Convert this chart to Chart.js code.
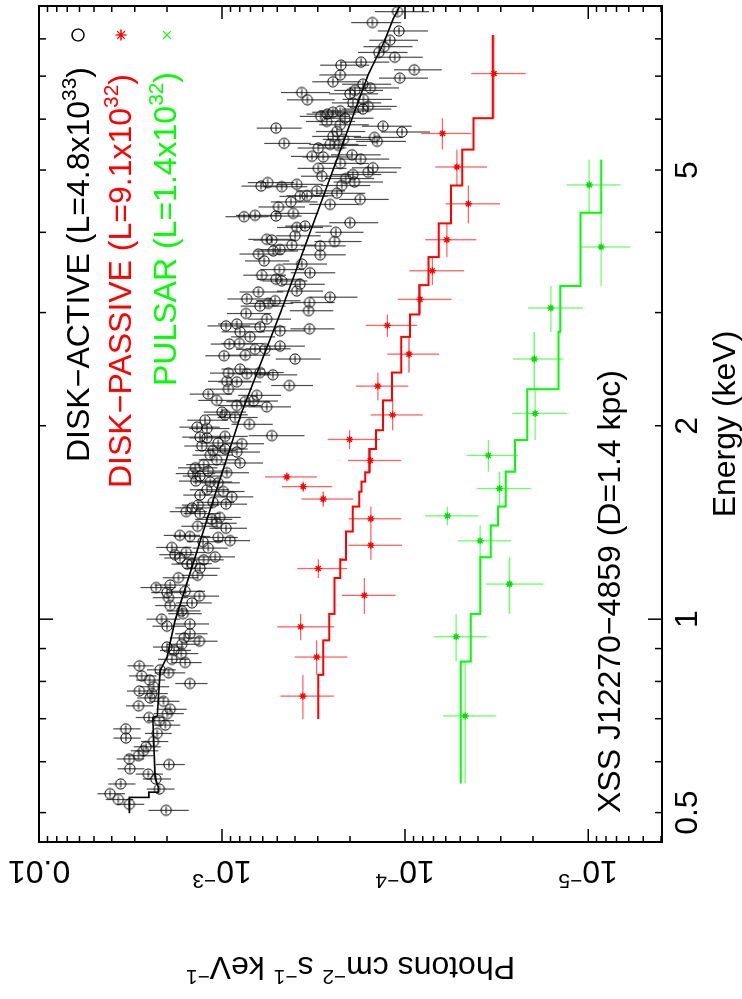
<!DOCTYPE html>
<html>
<head>
<meta charset="utf-8">
<script src="https://cdn.jsdelivr.net/npm/chart.js@4.4.1/dist/chart.umd.min.js"></script>
<style>
  html, body { margin: 0; padding: 0; width: 742px; height: 999px; overflow: hidden; background: #fff; }
  /* the plot is drawn landscape and turned a quarter turn, like the printed figure */
  #turn { position: absolute; left: 0; top: 0; width: 999px; height: 742px;
          transform-origin: 0 0; transform: translateY(999px) rotate(-90deg); }
</style>
</head>
<body>
<div id="turn"><canvas id="spec" width="999" height="742"></canvas></div>
<script>
/* spectrum plot - XSS J12270-4859 */

// axis ticks and labels
const energyTicks = [0.5, 1, 2, 5];
const energyTickLabels = ['0.5', '1', '2', '5'];
const fluxTicks = [0.01, 1e-3, 1e-4, 1e-5];
const fluxTickLabels = [['0.01', ''], ['10', '\u22123'], ['10', '\u22124'], ['10', '\u22125']];

// legend
const seriesNames = ['DISK\u2212ACTIVE', 'DISK\u2212PASSIVE', 'PULSAR'];
const seriesLum = [['4.8', '33'], ['9.1', '32'], ['1.4', '32']];

// DISK-ACTIVE: [energy keV, flux, flux error]
const diskActive = [
  [0.504,2.02e-3,5.0e-4],[0.515,3.21e-3,5.5e-4],[0.524,3.69e-3,6.3e-4],[0.535,4.09e-3,7.0e-4],[0.544,2.20e-3,3.8e-4],
  [0.554,3.58e-3,6.1e-4],[0.564,2.30e-3,4.0e-4],[0.574,2.53e-3,4.3e-4],[0.585,3.19e-3,5.4e-4],[0.594,1.95e-3,3.5e-4],
  [0.606,3.21e-3,5.5e-4],[0.613,2.86e-3,4.9e-4],[0.624,2.69e-3,4.6e-4],[0.633,2.60e-3,4.4e-4],[0.645,2.37e-3,4.0e-4],
  [0.653,3.35e-3,5.7e-4],[0.664,2.26e-3,3.8e-4],[0.675,3.36e-3,5.7e-4],[0.684,2.04e-3,3.5e-4],[0.695,2.20e-3,3.7e-4],
  [0.703,2.51e-3,4.5e-4],[0.713,1.99e-3,3.7e-4],[0.724,1.92e-3,3.6e-4],[0.733,2.86e-3,4.9e-4],[0.745,2.09e-3,3.8e-4],
  [0.754,2.47e-3,4.4e-4],[0.766,2.42e-3,4.4e-4],[0.773,2.83e-3,4.8e-4],[0.785,2.37e-3,4.3e-4],[0.794,1.50e-3,3.0e-4],
  [0.804,2.49e-3,4.5e-4],[0.816,2.75e-3,4.7e-4],[0.825,1.96e-3,3.7e-4],[0.834,2.18e-3,3.9e-4],[0.846,2.83e-3,4.6e-4],
  [0.856,1.59e-3,3.0e-4],[0.866,1.88e-3,3.6e-4],[0.884,1.67e-3,3.2e-4],[0.894,1.83e-3,3.5e-4],[0.905,2.00e-3,3.8e-4],
  [0.914,1.66e-3,3.3e-4],[0.924,1.33e-3,2.7e-4],[0.935,1.61e-3,3.2e-4],[0.949,1.50e-3,3.0e-4],[0.975,2.00e-3,4.0e-4],
  [0.983,1.50e-3,3.2e-4],
  [1.00,2.14e-3,4.5e-4],[1.02,1.63e-3,3.4e-4],[1.03,1.66e-3,3.5e-4],[1.05,1.92e-3,4.0e-4],[1.06,1.46e-3,3.2e-4],
  [1.08,1.96e-3,4.3e-4],[1.086,1.33e-3,2.9e-4],[1.10,2.00e-3,4.4e-4],[1.105,1.59e-3,3.5e-4],[1.12,2.29e-3,5.0e-4],
  [1.13,1.92e-3,4.2e-4],[1.16,1.73e-3,3.8e-4],[1.17,1.36e-3,3.0e-4],[1.20,1.32e-3,2.9e-4],[1.218,1.55e-3,3.4e-4],
  [1.22,1.46e-3,3.2e-4],[1.237,1.26e-3,2.8e-4],[1.245,1.70e-3,3.7e-4],[1.25,1.09e-3,2.4e-4],[1.26,1.81e-3,3.9e-4],
  [1.27,1.57e-3,3.4e-4],[1.29,1.19e-3,2.6e-4],[1.293,1.88e-3,4.1e-4],[1.32,1.27e-3,2.8e-4],[1.325,9.04e-4,2.0e-4],
  [1.34,1.05e-3,2.3e-4],[1.345,1.50e-3,3.4e-4],[1.35,1.70e-3,3.8e-4],[1.385,9.51e-4,2.2e-4],[1.395,1.36e-3,3.1e-4],
  [1.41,1.07e-3,2.4e-4],[1.43,1.14e-3,2.6e-4],[1.44,1.03e-3,2.4e-4],[1.46,1.32e-3,3.0e-4],[1.47,1.57e-3,3.6e-4],
  [1.49,1.46e-3,3.4e-4],[1.505,1.35e-3,3.1e-4],[1.51,9.51e-4,2.2e-4],[1.52,1.12e-3,2.6e-4],[1.55,8.85e-4,2.1e-4],
  [1.56,1.32e-3,3.1e-4],[1.58,9.84e-4,2.3e-4],[1.59,1.21e-3,2.9e-4],[1.63,1.05e-3,2.5e-4],[1.635,1.16e-3,2.8e-4],
  [1.64,1.39e-3,3.3e-4],[1.67,1.32e-3,3.2e-4],[1.685,1.44e-3,3.5e-4],[1.69,9.43e-4,2.3e-4],[1.70,1.19e-3,2.9e-4],
  [1.72,1.40e-3,3.4e-4],[1.74,1.26e-3,3.1e-4],[1.75,7.97e-4,2.0e-4],[1.77,1.07e-3,2.7e-4],[1.80,1.16e-3,2.9e-4],
  [1.82,8.31e-4,2.1e-4],[1.83,1.12e-3,2.8e-4],[1.84,9.63e-4,2.4e-4],[1.86,1.29e-3,3.2e-4],[1.875,7.80e-4,1.9e-4],
  [1.88,1.05e-3,2.6e-4],[1.915,1.21e-3,3.0e-4],[1.92,1.32e-3,3.3e-4],[1.925,9.63e-4,2.4e-4],[1.93,5.35e-4,1.8e-4],
  [1.98,1.21e-3,3.0e-4],[1.99,1.37e-3,3.4e-4],
  [2.01,7.09e-4,1.8e-4],[2.04,1.24e-3,3.1e-4],[2.06,8.49e-4,2.1e-4],[2.08,9.63e-4,2.4e-4],[2.10,1.00e-3,2.6e-4],
  [2.14,5.70e-4,1.5e-4],[2.15,8.31e-4,2.2e-4],[2.18,7.48e-4,2.0e-4],[2.185,6.74e-4,1.8e-4],[2.19,1.07e-3,2.8e-4],
  [2.23,6.46e-4,1.7e-4],[2.24,1.19e-3,3.1e-4],[2.28,9.23e-4,2.4e-4],[2.31,4.29e-4,1.1e-4],[2.34,8.31e-4,2.2e-4],
  [2.345,9.43e-4,2.5e-4],[2.40,5.28e-4,1.4e-4],[2.41,7.33e-4,1.9e-4],[2.415,9.23e-4,2.4e-4],[2.42,6.20e-4,1.6e-4],
  [2.45,7.97e-4,2.1e-4],[2.54,3.99e-4,1.1e-4],[2.57,9.75e-4,2.6e-4],[2.575,7.46e-4,2.0e-4],[2.63,6.60e-4,1.8e-4],
  [2.635,5.82e-4,1.6e-4],[2.66,4.82e-4,1.3e-4],[2.68,9.12e-4,2.4e-4],[2.685,8.04e-4,2.1e-4],[2.75,7.03e-4,1.9e-4],
  [2.80,7.97e-4,2.1e-4],[2.81,4.82e-4,1.3e-4],[2.83,3.33e-4,9.0e-5],[2.85,6.20e-4,1.7e-4],[2.86,9.51e-4,2.5e-4],
  [2.88,8.31e-4,2.2e-4],[2.93,5.70e-4,1.5e-4],[2.99,7.39e-4,2.0e-4],[3.02,3.37e-4,9.0e-5],[3.07,6.20e-4,1.7e-4],
  [3.10,5.58e-4,1.5e-4],[3.11,3.33e-4,9.0e-5],[3.13,5.13e-4,1.4e-4],[3.15,7.33e-4,2.0e-4],[3.17,2.57e-4,7.5e-5],
  [3.23,6.33e-4,1.7e-4],[3.24,3.91e-4,1.1e-4],[3.32,3.75e-4,1.0e-4],[3.36,4.72e-4,1.3e-4],[3.38,5.07e-4,1.4e-4],
  [3.43,6.07e-4,1.6e-4],[3.46,3.31e-4,9.0e-5],[3.50,4.86e-4,1.3e-4],[3.57,3.67e-4,1.0e-4],[3.61,5.89e-4,1.6e-4],
  [3.69,2.91e-4,8.0e-5],[3.70,6.33e-4,1.7e-4],[3.74,5.25e-4,1.4e-4],[3.76,4.82e-4,1.3e-4],[3.81,2.91e-4,8.0e-5],
  [3.82,4.16e-4,1.1e-4],[3.87,2.43e-4,7.0e-5],[3.89,5.35e-4,1.4e-4],[3.90,5.70e-4,1.5e-4],[3.95,3.99e-4,1.1e-4],
  [4.00,2.39e-4,7.0e-5],[4.07,3.91e-4,1.1e-4],[4.09,3.52e-4,1.0e-4],[4.14,2.00e-4,6.0e-5],[4.23,7.58e-4,2.0e-4],
  [4.24,5.07e-4,1.4e-4],[4.25,6.60e-4,1.8e-4],[4.28,4.08e-4,1.1e-4],[4.38,4.92e-4,1.4e-4],[4.42,2.57e-4,7.7e-5],
  [4.46,4.21e-4,1.2e-4],[4.50,1.76e-4,5.3e-5],[4.55,3.75e-4,1.1e-4],[4.56,3.44e-4,1.0e-4],[4.60,2.36e-4,7.1e-5],
  [4.64,3.04e-4,9.1e-5],[4.71,4.72e-4,1.3e-4],[4.72,6.12e-4,1.7e-4],[4.73,2.22e-4,6.7e-5],[4.75,3.91e-4,1.1e-4],
  [4.78,5.63e-4,1.6e-4],[4.79,1.89e-4,5.7e-5],[4.85,2.11e-4,6.3e-5],[4.89,2.85e-4,8.6e-5],[4.92,1.93e-4,5.8e-5],
  [4.96,1.59e-4,4.8e-5],[5.03,2.98e-4,8.9e-5],[5.04,1.50e-4,4.5e-5],[5.12,2.26e-4,6.8e-5],[5.20,1.75e-4,5.3e-5],
  [5.24,2.80e-4,8.4e-5],[5.25,3.23e-4,9.7e-5],[5.28,1.95e-4,5.9e-5],[5.41,2.98e-4,8.9e-5],[5.46,2.31e-4,6.9e-5],
  [5.48,2.57e-4,7.7e-5],[5.50,4.58e-4,1.3e-4],[5.54,1.42e-4,4.3e-5],[5.58,2.17e-4,6.5e-5],[5.62,1.47e-4,4.4e-5],
  [5.64,2.48e-4,7.4e-5],[5.73,1.04e-4,3.1e-5],[5.74,2.36e-4,7.1e-5],[5.81,5.07e-4,1.4e-4],[5.85,1.32e-4,4.0e-5],
  [5.88,2.26e-4,6.8e-5],[5.95,2.68e-4,8.0e-5],[6.02,2.13e-4,6.4e-5],[6.06,2.89e-4,8.7e-5],[6.11,2.66e-4,8.0e-5],
  [6.15,2.48e-4,7.4e-5],[6.18,2.26e-4,6.8e-5],[6.22,1.70e-4,5.1e-5],[6.28,1.59e-4,4.8e-5],[6.36,1.93e-4,5.8e-5],
  [6.43,3.42e-4,1.0e-4],[6.44,1.69e-4,5.1e-5],[6.57,2.00e-4,6.0e-5],[6.60,3.67e-4,1.1e-4],[6.65,1.88e-4,5.6e-5],
  [6.71,1.55e-4,4.7e-5],[6.80,1.70e-4,5.1e-5],[6.86,2.48e-4,7.4e-5],[6.95,1.07e-4,3.2e-5],[7.03,2.26e-4,6.8e-5],
  [7.16,8.90e-5,2.6e-5],[7.28,2.24e-4,6.7e-5],[7.36,1.74e-4,5.2e-5],[7.49,1.14e-4,3.4e-5],[7.62,1.39e-4,4.2e-5],
  [7.78,1.30e-4,3.9e-5],[7.96,1.21e-4,3.6e-5],[8.23,1.08e-4,3.3e-5],[8.48,1.51e-4,4.6e-5],[8.82,1.10e-4,3.6e-5]
];
// DISK-ACTIVE model curve: [energy, flux]
const activeModel = [
  [0.499,3.21e-3],[0.528,3.21e-3],[0.528,2.51e-3],[0.538,2.51e-3],[0.538,2.23e-3],[0.548,2.23e-3],
  [0.567,2.32e-3],[0.703,2.39e-3],[0.707,2.26e-3],[0.831,2.18e-3],[0.873,2.00e-3],[0.993,1.81e-3],
  [1.47,1.17e-3],[2.10,7.8e-4],[3.0,4.8e-4],[4.29,3.02e-4],[7.04,1.59e-4],[7.96,1.29e-4],
  [8.6,1.16e-4],[8.85,1.10e-4],[9.0,1.07e-4]
];

// DISK-PASSIVE bins: [energy, half width, flux, flux error], model value per bin
const diskPassive = [
  [0.759,0.060,3.62e-4,1.17e-4],[0.873,0.054,3.04e-4,9.7e-5],[0.973,0.046,3.72e-4,1.28e-4],
  [1.089,0.070,1.67e-4,5.4e-5],[1.199,0.040,2.98e-4,9.0e-5],[1.303,0.066,1.54e-4,5.0e-5],
  [1.433,0.064,1.54e-4,4.9e-5],[1.538,0.041,2.80e-4,8.8e-5],[1.608,0.029,3.60e-4,1.1e-4],
  [1.665,0.028,4.43e-4,1.4e-4],[1.766,0.074,1.55e-4,5.0e-5],[1.904,0.064,2.01e-4,6.4e-5],
  [2.079,0.111,1.17e-4,3.7e-5],[2.305,0.115,1.41e-4,4.5e-5],[2.585,0.165,9.52e-5,3.0e-5],
  [2.865,0.115,1.25e-4,3.9e-5],[3.145,0.165,8.28e-5,2.7e-5],[3.485,0.175,7.10e-5,2.35e-5],
  [3.895,0.235,5.92e-5,1.84e-5],[4.43,0.30,4.51e-5,1.48e-5],[5.055,0.325,5.21e-5,1.64e-5],
  [5.70,0.32,6.25e-5,1.9e-5],[7.065,1.045,3.27e-5,1.08e-5]
];
const passiveModel = [2.98e-4,2.80e-4,2.60e-4,2.43e-4,2.26e-4,2.10e-4,1.93e-4,1.78e-4,1.73e-4,1.65e-4,1.57e-4,1.44e-4,
  1.32e-4,1.18e-4,1.05e-4,9.40e-5,8.36e-5,7.46e-5,6.54e-5,5.62e-5,4.87e-5,4.23e-5,3.32e-5];

// PULSAR bins
const pulsar = [
  [0.707,0.152,4.70e-5,1.5e-5],[0.939,0.080,5.26e-5,1.7e-5],[1.134,0.115,2.69e-5,9.3e-6],
  [1.324,0.076,3.89e-5,1.25e-5],[1.448,0.049,5.87e-5,1.9e-5],[1.597,0.100,3.05e-5,1.0e-5],
  [1.798,0.102,3.51e-5,1.1e-5],[2.09,0.19,1.95e-5,6.5e-6],[2.54,0.26,1.97e-5,6.0e-6],
  [3.05,0.25,1.60e-5,5.3e-6],[3.795,0.495,8.49e-6,2.6e-6],[4.74,0.45,9.87e-6,3.2e-6]
];
const pulsarModel = [4.97e-5,4.38e-5,3.89e-5,3.40e-5,3.11e-5,2.82e-5,2.51e-5,2.15e-5,1.45e-5,1.42e-5,1.10e-5,8.49e-6];

const FONT_SIZE = 32;
function setFont(ctx, size) {
  ctx.font = size + 'px "Liberation Sans", Arial, Helvetica, sans-serif';
}
// parts: [[text, isSuperscript], ...]
function drawRich(ctx, parts, x, y, size, align) {
  let w = 0;
  parts.forEach(([t, sup]) => { setFont(ctx, sup ? size * 0.65 : size); w += ctx.measureText(t).width; });
  let cx = align === 'center' ? x - w / 2 : (align === 'right' ? x - w : x);
  ctx.textAlign = 'left';
  ctx.textBaseline = 'alphabetic';
  parts.forEach(([t, sup]) => {
    setFont(ctx, sup ? size * 0.65 : size);
    ctx.fillText(t, cx, sup ? y - size * 0.42 : y);
    cx += ctx.measureText(t).width;
  });
}

// open circle with the tiny energy bar inside
function circleMarker() {
  const c = document.createElement('canvas');
  c.width = 14; c.height = 14;
  const g = c.getContext('2d');
  g.strokeStyle = '#000';
  g.lineWidth = 1;
  g.beginPath(); g.arc(7, 7, 5.1, 0, Math.PI * 2); g.stroke();
  g.beginPath(); g.moveTo(3.5, 7); g.lineTo(10.5, 7); g.stroke();
  return c;
}

function stepPoints(rows, model) {
  return rows.flatMap((r, i) => [{x: r[0] - r[1], y: model[i]}, {x: r[0] + r[1], y: model[i]}]);
}

function binBars(ctx, x, y, rows, colour) {
  ctx.strokeStyle = colour;
  ctx.lineWidth = 1.3;
  ctx.beginPath();
  rows.forEach(([e, de, f, df]) => {
    const px = x.getPixelForValue(e), py = y.getPixelForValue(f);
    ctx.moveTo(x.getPixelForValue(e - de), py); ctx.lineTo(x.getPixelForValue(e + de), py);
    ctx.moveTo(px, y.getPixelForValue(f + df)); ctx.lineTo(px, y.getPixelForValue(f - df));
  });
  ctx.stroke();
}

const errorBars = {
  id: 'errorBars',
  beforeDatasetsDraw(chart) {
    const {ctx, chartArea: a, scales: {x, y}} = chart;
    ctx.save();
    ctx.beginPath(); ctx.rect(a.left, a.top, a.right - a.left, a.bottom - a.top); ctx.clip();
    ctx.strokeStyle = 'rgba(0,0,0,0.7)';
    ctx.lineWidth = 1.2;
    ctx.beginPath();
    diskActive.forEach(([e, f, df]) => {
      const px = x.getPixelForValue(e);
      ctx.moveTo(px, y.getPixelForValue(f + df));
      ctx.lineTo(px, y.getPixelForValue(f - df));
    });
    ctx.stroke();
    binBars(ctx, x, y, diskPassive, '#ff6464');
    binBars(ctx, x, y, pulsar, '#6cff6c');
    ctx.restore();
  }
};

const frame = {
  id: 'frame',
  afterDraw(chart) {
    const {ctx, chartArea: a, scales: {x, y}} = chart;
    ctx.save();
    ctx.strokeStyle = '#000';
    ctx.fillStyle = '#000';
    ctx.lineWidth = 1.5;
    ctx.beginPath();
    for (const d of [0.1, 1]) {
      for (let k = 1; k <= 9; k++) {
        const v = k * d;
        if (v < x.min || v > x.max) continue;
        const px = x.getPixelForValue(v), len = k === 1 ? 14 : 7;
        ctx.moveTo(px, a.bottom); ctx.lineTo(px, a.bottom - len);
        ctx.moveTo(px, a.top); ctx.lineTo(px, a.top + len);
      }
    }
    for (const d of [1e-6, 1e-5, 1e-4, 1e-3, 1e-2]) {
      for (let k = 1; k <= 9; k++) {
        const v = k * d;
        if (v < y.min || v > y.max * 1.0001) continue;
        const py = y.getPixelForValue(v), len = k === 1 ? 13 : 6;
        ctx.moveTo(a.left, py); ctx.lineTo(a.left + len, py);
        ctx.moveTo(a.right, py); ctx.lineTo(a.right - len, py);
      }
    }
    ctx.stroke();
    ctx.lineWidth = 2;
    ctx.strokeRect(a.left, a.top, a.right - a.left, a.bottom - a.top);

    // energy axis
    energyTicks.forEach((v, i) => drawRich(ctx, [[energyTickLabels[i], false]], x.getPixelForValue(v), 697, FONT_SIZE, 'center'));
    drawRich(ctx, [['Energy (keV)', false]], (a.left + a.right) / 2, 735, FONT_SIZE, 'center');

    // flux axis, text along the axis
    fluxTicks.forEach((v, i) => {
      const [base, exp] = fluxTickLabels[i];
      ctx.save();
      ctx.translate(138, y.getPixelForValue(v));
      ctx.rotate(-Math.PI / 2);
      drawRich(ctx, exp ? [[base, false], [exp, true]] : [[base, false]], 0, 0, FONT_SIZE, 'center');
      ctx.restore();
    });
    ctx.save();
    ctx.translate(42, (a.top + a.bottom) / 2);
    ctx.rotate(-Math.PI / 2);
    drawRich(ctx, [['Photons cm', false], ['\u22122', true], [' s', false], ['\u22121', true], [' keV', false], ['\u22121', true]], 0, 0, FONT_SIZE, 'center');
    ctx.restore();

    // legend
    const colours = ['#000000', '#ff0000', '#00ff00'];
    const startX = [537, 511, 613], baseY = [89, 131, 176], markY = [78, 121, 167];
    const markStyle = ['circle', 'star', 'crossRot'];
    seriesNames.forEach((name, i) => {
      ctx.fillStyle = colours[i];
      drawRich(ctx, [[name + ' (L=' + seriesLum[i][0] + 'x10', false], [seriesLum[i][1], true], [')', false]],
        startX[i], baseY[i], FONT_SIZE, 'left');
      ctx.strokeStyle = colours[i];
      ctx.lineWidth = 1.3;
      if (markStyle[i] === 'circle') {
        ctx.beginPath(); ctx.arc(964, markY[i], 6, 0, Math.PI * 2); ctx.stroke();
      } else {
        Chart.helpers.drawPoint(ctx, {pointStyle: markStyle[i], radius: 5.5, borderWidth: 1.3, rotation: 0}, 964, markY[i]);
      }
    });

    ctx.fillStyle = '#000';
    drawRich(ctx, [['XSS J12270\u22124859 (D=1.4 kpc)', false]], 186, 620, FONT_SIZE, 'left');
    ctx.restore();
  }
};

new Chart(document.getElementById('spec'), {
  type: 'scatter',
  data: {
    datasets: [
      { data: activeModel.map(([e, f]) => ({x: e, y: f})), showLine: true, borderColor: '#000',
        borderWidth: 1.6, pointRadius: 0 },
      { data: stepPoints(diskPassive, passiveModel), showLine: true, borderColor: '#ff0000',
        borderWidth: 2, pointRadius: 0 },
      { data: stepPoints(pulsar, pulsarModel), showLine: true, borderColor: '#00ff00',
        borderWidth: 2, pointRadius: 0 },
      { data: diskPassive.map(r => ({x: r[0], y: r[2]})), pointStyle: 'star', pointRadius: 3.5,
        borderColor: '#ff0000', borderWidth: 1.3 },
      { data: pulsar.map(r => ({x: r[0], y: r[2]})), pointStyle: 'star', pointRadius: 3.5,
        borderColor: '#00dd00', borderWidth: 1.3 },
      { data: diskActive.map(r => ({x: r[0], y: r[1]})), pointStyle: circleMarker(), pointRadius: 5 }
    ]
  },
  options: {
    responsive: false,
    animation: false,
    devicePixelRatio: 1,
    events: [],
    layout: { padding: { left: 157, right: 2, top: 39, bottom: 80 } },
    plugins: { legend: { display: false }, tooltip: { enabled: false } },
    scales: {
      x: { type: 'logarithmic', min: 0.45, max: 9, display: false },
      y: { type: 'logarithmic', min: 3.95e-6, max: 0.01, display: false }
    }
  },
  plugins: [errorBars, frame]
});
</script>
</body>
</html>
